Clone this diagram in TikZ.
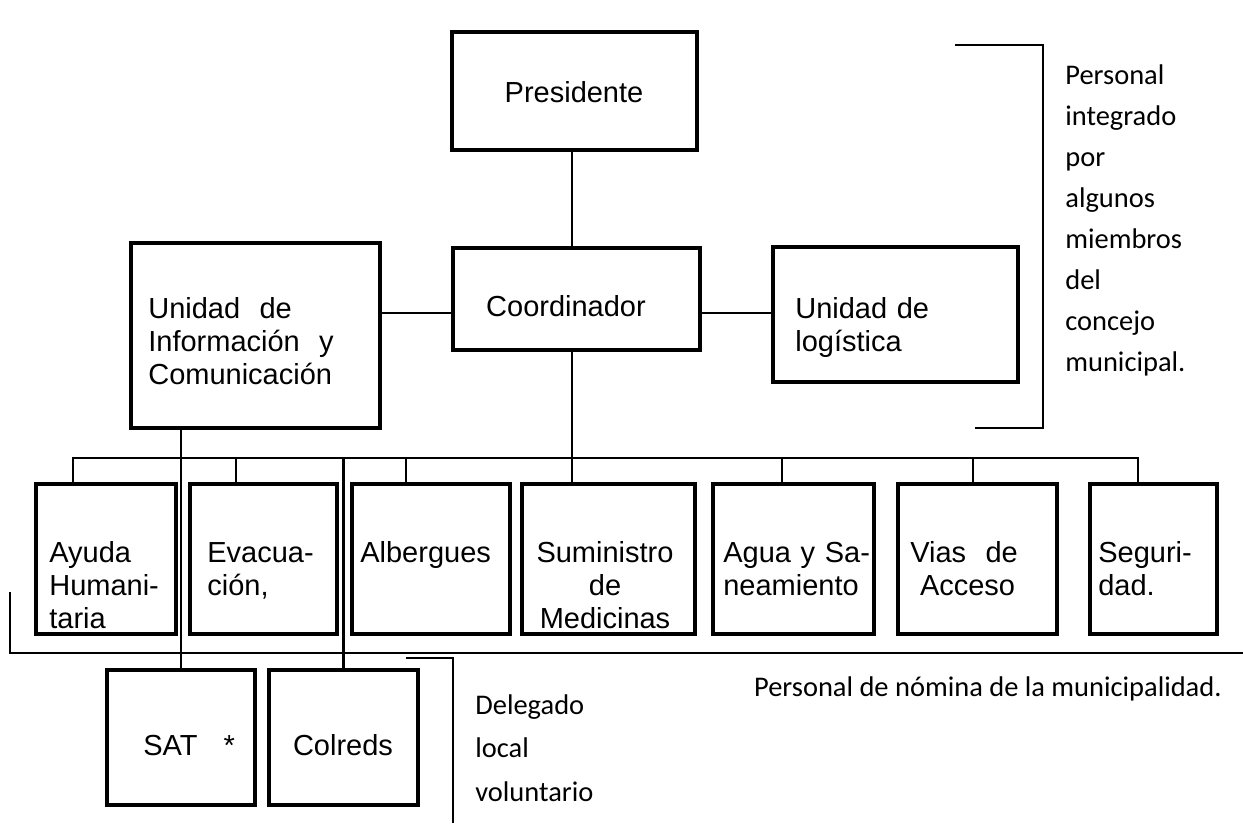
\documentclass[tikz,border=0pt]{standalone}
\usepackage{fontspec}
\setmainfont{Liberation Sans}
\newfontfamily\notefont{Carlito}
\usetikzlibrary{calc}

\begin{document}
\begin{tikzpicture}[
    x=0.02cm, y=-0.02cm,
    box/.style={rectangle, draw, line width=2.6pt, inner sep=0pt},
    boxsize/.style 2 args={minimum width=#1*0.02cm, minimum height=#2*0.02cm},
    txt/.style={inner sep=0pt, font=\fontsize{16.5}{19}\selectfont},
    lbl/.style={txt, text width=#1, align=left},
    clbl/.style={txt, text width=#1, align=center},
    note/.style={inner sep=0pt, text width=#1, align=left, font=\notefont\fontsize{16.2}{23.4}\selectfont},
    conn/.style={line width=0.9pt},
    thickconn/.style={line width=1.3pt}
]
\useasboundingbox (0,0) rectangle (1243,823);

% cajas superiores
\node[box, boxsize={245}{118}] (pres) at (574.5,91) {};
\node[box, boxsize={247}{102}] (coord) at (576.5,299) {};
\node[box, boxsize={249}{185}] (info) at (255.5,335.5) {};
\node[box, boxsize={245}{135}] (logis) at (895.5,314.5) {};

% comisiones
\node[box, boxsize={140}{150}] (ayuda) at (106,559) {};
\node[box, boxsize={147}{150}] (evac) at (263.5,559) {};
\node[box, boxsize={158}{150}] (alberg) at (431,559) {};
\node[box, boxsize={173}{150}] (sumin) at (608.5,559) {};
\node[box, boxsize={161}{150}] (agua) at (793.5,559) {};
\node[box, boxsize={159}{150}] (vias) at (977.5,559) {};
\node[box, boxsize={127}{150}] (segur) at (1153.5,559) {};
\node[box, boxsize={148}{135}] (sat) at (181,737.5) {};
\node[box, boxsize={149}{135}] (colreds) at (343.5,737.5) {};

% textos
\node[txt, anchor=base] (pres-t) at (574,102) {Presidente};
\node[txt, anchor=base] (coord-t) at (566,316) {Coordinador};
\node[lbl=4.4cm, anchor=base west] (info-t) at (148,318) {Unidad\ \ de\\Información\ \ y\\Comunicación};
\node[lbl=4.2cm, anchor=base west] (logis-t) at (795,318) {Unidad de\\logística};
\node[lbl=2.6cm, anchor=base west] (ayuda-t) at (49,562) {Ayuda\\Humani-\\taria};
\node[lbl=2.6cm, anchor=base west] (evac-t) at (207,562) {Evacua-\\ción,};
\node[lbl=2.9cm, anchor=base west] (alberg-t) at (360,562) {Albergues};
\node[clbl=3.2cm, anchor=base] (sumin-t) at (605,562) {Suministro\\de\\Medicinas};
\node[lbl=3cm, anchor=base west] (agua-t) at (723,562) {Agua y Sa-\\neamiento};
\node[lbl=3cm, anchor=base west] (vias-t) at (910,562) {Vias\ \ de\\\ Acceso};
\node[lbl=2.3cm, anchor=base west] (segur-t) at (1098,562) {Seguri-\\dad.};
\node[txt, anchor=base west] (sat-t) at (143,755) {SAT\hspace{0.9em}*};
\node[txt, anchor=base] (colreds-t) at (343,755) {Colreds};

% notas
\node[note=3cm, anchor=base west] (concejo) at (1065,84) {Personal\\integrado\\por\\algunos\\miembros\\del\\concejo\\municipal.};
\node[inner sep=0pt, anchor=base east, font=\notefont\fontsize{16.2}{20}\selectfont] (nomina) at (1222,696) {Personal de nómina de la municipalidad.};
\node[note=3cm, anchor=base west, font=\notefont\fontsize{16.2}{25}\selectfont] (delegado) at (475,714) {Delegado\\local\\voluntario};

% lineas
\coordinate (bus) at (572,458);
\coordinate (midline) at (0,313);
\draw[thickconn] (pres.south -| bus) -- (coord.north -| bus);
\draw[conn] (info.east |- midline) -- (coord.west |- midline);
\draw[conn] (coord.east |- midline) -- (logis.west |- midline);
\draw[thickconn] (coord.south -| bus) -- (bus |- sumin.north);
\draw[conn] (ayuda.north -| 73,0) |- (bus) -| (segur.north -| 1138,0);
\foreach \n/\x in {evac/236, alberg/406, agua/782, vias/973}
    \draw[conn] (bus -| \x,0) -- (\n.north -| \x,0);
\draw[conn] (sat.north |- info.south) -- (sat.north);
\draw[thickconn] (colreds.north |- bus) -- (colreds.north);

% llaves
\draw[conn] (955,45) -| (1043,428) -- (975,428);
\draw[conn] (10,592) |- (1243,653);
\draw[conn] (406,658) -| (453,823);

\end{tikzpicture}
\end{document}
